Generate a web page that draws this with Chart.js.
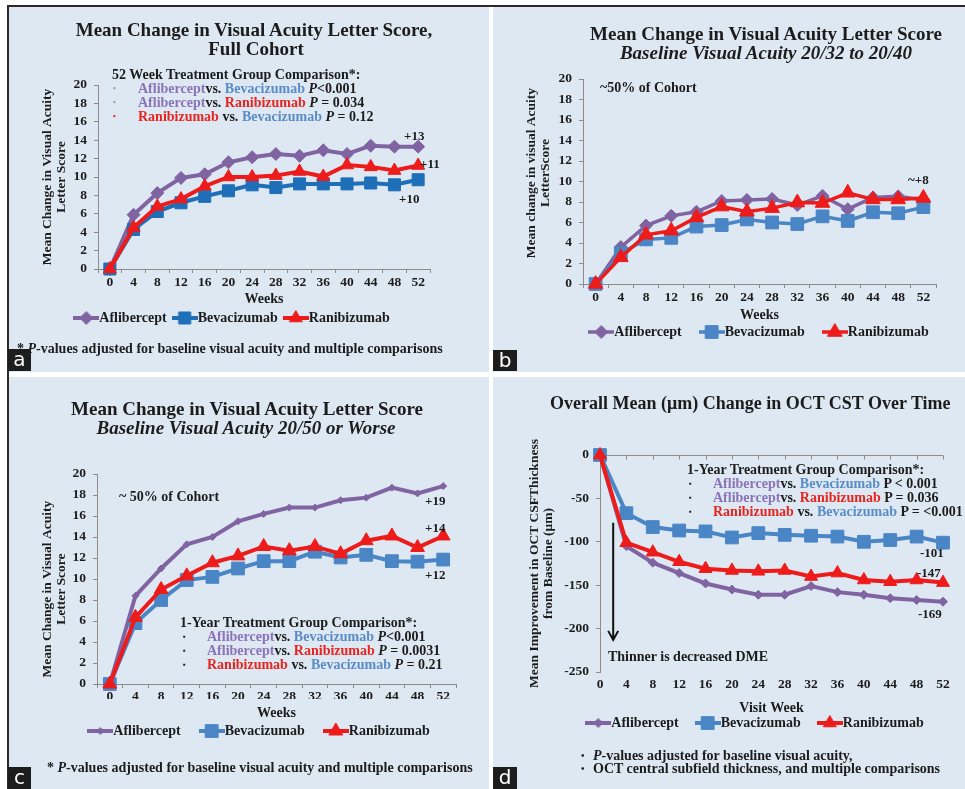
<!DOCTYPE html>
<html>
<head>
<meta charset="utf-8">
<title>Mean change in visual acuity and OCT CST by treatment</title>
<script src="https://cdn.jsdelivr.net/npm/chart.js@4.4.1/dist/chart.umd.min.js"></script>
<style>
  html, body { margin: 0; padding: 0; background: #fff; }
  #fig { position: relative; width: 965px; height: 789px; overflow: hidden; background: #fff;
         font-family: 'Liberation Serif', 'DejaVu Serif', serif; font-weight: bold; color: #1c1c1c; }
  .panel { position: absolute; background: #dde8f3; overflow: hidden; }
  .panel canvas { position: absolute; left: 0; top: 0; }
  .t { position: absolute; white-space: nowrap; line-height: 1; }
  .pu { color: #8b73b6; }
  .bl { color: #5a8cc6; }
  .rd { color: #e8241f; }
  .tag { position: absolute; background: #1d1d1d; color: #fff; font: 20px 'DejaVu Sans', sans-serif;
         line-height: 20px; text-align: center; }
  .rule { position: absolute; background: #2b2b2b; }
</style>
</head>
<body>
<div id="fig">
  <div class="panel" id="pa" style="left:9px;top:7px;width:480px;height:365px"><canvas id="ca" width="480" height="365"></canvas></div>
  <div class="panel" id="pb" style="left:493px;top:7px;width:472px;height:365px"><canvas id="cb" width="472" height="365"></canvas></div>
  <div class="panel" id="pc" style="left:9px;top:377px;width:480px;height:412px"><canvas id="cc" width="480" height="412"></canvas></div>
  <div class="panel" id="pd" style="left:493px;top:377px;width:472px;height:412px"><canvas id="cd" width="472" height="412"></canvas></div>
  <div class="rule" style="left:7px;top:5px;width:958px;height:2px"></div>
  <div class="rule" style="left:7px;top:5px;width:2px;height:784px"></div>
  <div class="tag" style="left:8px;top:349px;width:23px;height:22px">a</div>
  <div class="tag" style="left:493px;top:350px;width:24px;height:21px">b</div>
  <div class="tag" style="left:8px;top:767px;width:23px;height:22px">c</div>
  <div class="tag" style="left:493px;top:767px;width:24px;height:22px">d</div>
</div>
<script>
// x categories (weeks)
const weeks = ['0', '4', '8', '12', '16', '20', '24', '28', '32', '36', '40', '44', '48', '52'];

// a - full cohort, mean change in letter score
const fullAflibercept = [0, 5.9, 8.25, 9.9, 10.3, 11.6, 12.15, 12.5, 12.3, 12.9, 12.5, 13.4, 13.3, 13.3];
const fullBevacizumab = [0, 4.3, 6.25, 7.2, 7.9, 8.5, 9.15, 8.85, 9.25, 9.25, 9.25, 9.35, 9.15, 9.7];
const fullRanibizumab = [0, 4.5, 6.8, 7.6, 9.0, 10.0, 10.0, 10.15, 10.6, 10.05, 11.3, 11.1, 10.7, 11.25];

// b - baseline 20/32 to 20/40
const goodAflibercept = [0, 3.6, 5.7, 6.65, 7.05, 8.1, 8.2, 8.3, 7.7, 8.6, 7.3, 8.45, 8.55, 8.2];
const goodBevacizumab = [0, 3.0, 4.35, 4.5, 5.6, 5.75, 6.3, 6.0, 5.85, 6.6, 6.15, 7.0, 6.9, 7.5];
const goodRanibizumab = [0, 2.6, 4.8, 5.2, 6.5, 7.55, 7.05, 7.4, 7.95, 7.9, 8.9, 8.25, 8.25, 8.4];

// c - baseline 20/50 or worse
const poorAflibercept = [0, 8.4, 11.0, 13.3, 14.0, 15.5, 16.2, 16.8, 16.8, 17.5, 17.75, 18.7, 18.15, 18.85];
const poorBevacizumab = [0, 5.8, 8.0, 9.9, 10.2, 11.0, 11.7, 11.7, 12.6, 12.05, 12.3, 11.7, 11.65, 11.85];
const poorRanibizumab = [0, 6.35, 9.0, 10.3, 11.55, 12.2, 13.1, 12.7, 13.1, 12.4, 13.65, 14.1, 13.0, 14.1];

// d - OCT central subfield thickness change (um)
const cstAflibercept = [0, -105, -124, -136, -148, -155, -161, -161, -151, -158, -161, -165, -167, -169];
const cstBevacizumab = [0, -67, -83, -87, -88, -95, -90, -92, -93, -94, -100, -98, -94, -101];
const cstRanibizumab = [0, -101, -112, -123, -131, -133, -134, -133, -140, -136, -144, -146, -144, -147];

// y tick ranges [min, max, step]
const scoreTicks = [0, 20, 2];
const cstTicks = [-250, 0, 50];
// "thinner" arrow: week position (category index) and span in um
const arrowWeek = 0.5;
const arrowSpan = [-78, -213];

const serif = "'Liberation Serif', 'DejaVu Serif', serif";
const axisGray = '#8c8c8c';
const ink = '#1c1c1c';
const purple = '#8064a2';
const red = '#ee1b1b';
const blueDark = '#1f6fb8';
const blueSoft = '#4a85c6';

function legendIcon(color, style, radius, width) {
    const c = document.createElement('canvas');
    c.width = 26;
    c.height = 20;
    const g = c.getContext('2d');
    g.strokeStyle = color;
    g.fillStyle = color;
    g.lineWidth = width;
    g.beginPath();
    g.moveTo(0, 10);
    g.lineTo(26, 10);
    g.stroke();
    g.lineWidth = 1;
    Chart.helpers.drawPoint(g, { pointStyle: style, radius: radius, borderWidth: 1, rotation: 0 }, 13, 10);
    return c;
}

function series(label, data, color, style, radius, width, order) {
    return {
        label, data, order,
        borderColor: color,
        backgroundColor: color,
        pointBackgroundColor: color,
        pointBorderColor: color,
        borderWidth: width,
        pointStyle: style,
        pointRadius: radius,
        pointBorderWidth: 1,
        tension: 0,
        clip: false,
        icon: legendIcon(color, style, radius, width)
    };
}

// plain zero line with tick marks for panel d (x axis sits at 0)
const zeroAxis = {
    id: 'zeroAxis',
    beforeDatasetsDraw(chart) {
        if (!chart.options.plugins.zeroAxis) return;
        const { ctx, chartArea, scales: { x, y } } = chart;
        const y0 = Math.round(y.getPixelForValue(0)) + 0.5;
        ctx.save();
        ctx.strokeStyle = axisGray;
        ctx.lineWidth = 1;
        ctx.beginPath();
        ctx.moveTo(chartArea.left, y0);
        ctx.lineTo(chartArea.right, y0);
        x.ticks.forEach((t, i) => {
            const px = Math.round(x.getPixelForTick(i)) + 0.5;
            ctx.moveTo(px, y0);
            ctx.lineTo(px, y0 + 4);
        });
        ctx.stroke();
        ctx.restore();
    }
};

const thinnerArrow = {
    id: 'thinnerArrow',
    afterDatasetsDraw(chart) {
        if (!chart.options.plugins.thinnerArrow) return;
        const { ctx, scales: { x, y } } = chart;
        const px = x.getPixelForValue(arrowWeek);
        const y1 = y.getPixelForValue(arrowSpan[0]);
        const y2 = y.getPixelForValue(arrowSpan[1]);
        ctx.save();
        ctx.strokeStyle = '#111';
        ctx.lineWidth = 2;
        ctx.beginPath();
        ctx.moveTo(px, y1);
        ctx.lineTo(px, y2);
        ctx.moveTo(px - 5, y2 - 9);
        ctx.lineTo(px, y2);
        ctx.lineTo(px + 5, y2 - 9);
        ctx.stroke();
        ctx.restore();
    }
};

function panelChart(canvasId, g, datasets, yRange, xTitle, yTitle, zeroAtTop) {
    const tickFont = 13.5, xTitleFont = 14, yTitleFont = 13.5, legendFont = 14;
    const xh = g.legendCY - g.bottom - g.pad - legendFont / 2;
    const pb = g.H - g.bottom - xh - (legendFont + g.pad + 10);
    const pr = g.W + g.pl - 2 * g.legendCX;
    const rightW = g.W - g.right - pr;
    const tickLen = zeroAtTop ? 0 : 4;

    return new Chart(document.getElementById(canvasId), {
        type: 'line',
        data: { labels: weeks, datasets: datasets },
        plugins: [zeroAxis, thinnerArrow],
        options: {
            responsive: false,
            animation: false,
            layout: { padding: { left: g.pl, right: pr, top: g.top, bottom: pb } },
            plugins: {
                zeroAxis: zeroAtTop,
                thinnerArrow: zeroAtTop,
                tooltip: { enabled: false },
                legend: {
                    position: 'bottom',
                    labels: {
                        usePointStyle: true,
                        pointStyleWidth: 12,
                        padding: g.pad,
                        color: ink,
                        font: { family: serif, size: legendFont, weight: 'bold' },
                        sort: (a, b) => a.datasetIndex - b.datasetIndex,
                        generateLabels(chart) {
                            const items = Chart.defaults.plugins.legend.labels.generateLabels(chart);
                            items.forEach(it => { it.pointStyle = chart.data.datasets[it.datasetIndex].icon; });
                            return items;
                        }
                    }
                }
            },
            scales: {
                x: {
                    type: 'category',
                    offset: !zeroAtTop,
                    border: { display: !zeroAtTop, color: axisGray },
                    grid: { display: !zeroAtTop, drawOnChartArea: false, drawTicks: !zeroAtTop, tickLength: 4, offset: true, color: axisGray },
                    ticks: {
                        autoSkip: false, maxRotation: 0, color: ink,
                        padding: g.xLabelCY - g.bottom - tickLen - 0.6 * tickFont,
                        font: { family: serif, size: tickFont, weight: 'bold' }
                    },
                    title: {
                        display: true, text: xTitle, color: ink,
                        padding: { top: 0, bottom: g.bottom + xh - 0.6 * xTitleFont - g.xTitleCY },
                        font: { family: serif, size: xTitleFont, weight: 'bold' }
                    },
                    afterFit(s) { s.height = xh; }
                },
                y: {
                    type: 'linear',
                    min: yRange[0], max: yRange[1],
                    border: { display: true, color: axisGray },
                    grid: { drawOnChartArea: false, tickLength: 4, color: axisGray },
                    ticks: {
                        stepSize: yRange[2], autoSkip: false, padding: 7, color: ink,
                        font: { family: serif, size: tickFont, weight: 'bold' }
                    },
                    title: {
                        display: true, text: yTitle, color: ink,
                        padding: { top: g.yTitleX - g.pl - yTitleFont / 2, bottom: 0 },
                        font: { family: serif, size: yTitleFont, weight: 'bold', lineHeight: 1.0 }
                    },
                    afterFit(s) { s.width = g.left - g.pl; }
                },
                spacer: {
                    type: 'linear', position: 'right', display: true,
                    grid: { display: false, drawTicks: false },
                    border: { display: false },
                    ticks: { display: false },
                    afterFit(s) { s.width = rightW; }
                }
            }
        }
    });
}

// positions inside each panel
const geoA = { W: 480, H: 365, left: 89, right: 421, top: 78, bottom: 262, pl: 12, legendCX: 226, legendCY: 311, pad: 12, xLabelCY: 276, xTitleCY: 292, yTitleX: 39 };
const geoB = { W: 472, H: 365, left: 90, right: 443, top: 72, bottom: 277, pl: 66, legendCX: 269, legendCY: 325, pad: 24, xLabelCY: 291, xTitleCY: 308, yTitleX: 39 };
const geoC = { W: 480, H: 412, left: 88, right: 447, top: 97, bottom: 307, pl: 40, legendCX: 253, legendCY: 354, pad: 25, xLabelCY: 320, xTitleCY: 336, yTitleX: 39 };
const geoD = { W: 472, H: 412, left: 107, right: 450, top: 78, bottom: 295, pl: 60, legendCX: 265, legendCY: 346, pad: 23, xLabelCY: 308, xTitleCY: 331, yTitleX: 42 };

panelChart('ca', geoA, [
    series('Aflibercept', fullAflibercept, purple, 'rectRot', 6.5, 4, 3),
    series('Bevacizumab', fullBevacizumab, blueDark, 'rect', 8.5, 4, 2),
    series('Ranibizumab', fullRanibizumab, red, 'triangle', 7.5, 4, 1)
], scoreTicks, 'Weeks', ['Mean Change in Visual Acuity', 'Letter Score'], false);

// leading / trailing spaces nudge the rotated titles off the axis centre, as in the source
panelChart('cb', geoB, [
    series('Aflibercept', goodAflibercept, purple, 'rectRot', 6.5, 3.5, 3),
    series('Bevacizumab', goodBevacizumab, blueSoft, 'rect', 9, 3.5, 2),
    series('Ranibizumab', goodRanibizumab, red, 'triangle', 8.5, 3.5, 1)
], scoreTicks, 'Weeks', ['     Mean change in visual Acuity', '     LetterScore'], false);

panelChart('cc', geoC, [
    series('Aflibercept', poorAflibercept, purple, 'rectRot', 3.5, 4, 3),
    series('Bevacizumab', poorBevacizumab, blueSoft, 'rect', 9, 4, 2),
    series('Ranibizumab', poorRanibizumab, red, 'triangle', 8, 4, 1)
], scoreTicks, 'Weeks', ['Mean Change in Visual Acuity      ', 'Letter Score      '], false);

panelChart('cd', geoD, [
    series('Aflibercept', cstAflibercept, purple, 'rectRot', 4.5, 4, 3),
    series('Bevacizumab', cstBevacizumab, blueSoft, 'rect', 9, 4, 2),
    series('Ranibizumab', cstRanibizumab, red, 'triangle', 7.5, 4, 1)
], cstTicks, 'Visit Week', ['Mean Improvement in OCT CSFThickness', 'from Baseline (μm)'], true);

// text written on the panels
function note(panel, x, cy, html, size, center, color) {
    const d = document.createElement('div');
    d.className = 't';
    d.innerHTML = html;
    d.style.left = x + 'px';
    d.style.top = cy + 'px';
    d.style.fontSize = size + 'px';
    d.style.transform = center ? 'translate(-50%, -50%)' : 'translateY(-50%)';
    if (color) d.style.color = color;
    document.getElementById(panel).appendChild(d);
}

// a
note('pa', 245, 22, 'Mean Change in Visual Acuity Letter Score,', 19, true);
note('pa', 247, 41, 'Full Cohort', 19, true);
note('pa', 103, 68, '52 Week Treatment Group Comparison*:', 14);
note('pa', 104, 82, '•', 8, false, '#9a9ab8');
note('pa', 104, 96, '•', 8, false, '#9a9ab8');
note('pa', 104, 110, '•', 8, false, '#e8241f');
note('pa', 129, 82, '<span class="pu">Aflibercept</span>vs. <span class="bl">Bevacizumab</span> <i>P</i>&lt;0.001', 14);
note('pa', 129, 96, '<span class="pu">Aflibercept</span>vs. <span class="rd">Ranibizumab</span> <i>P</i> = 0.034', 14);
note('pa', 129, 110, '<span class="rd">Ranibizumab</span> vs. <span class="bl">Bevacizumab</span> <i>P</i> = 0.12', 14);
note('pa', 395, 128, '+13', 13);
note('pa', 411, 156, '+11', 13);
note('pa', 390, 191, '+10', 13);
note('pa', 8, 342, '* <i>P</i>-values adjusted for baseline visual acuity and multiple comparisons', 14);

// b
note('pb', 273, 26, 'Mean Change in Visual Acuity Letter Score', 19, true);
note('pb', 273, 45, '<i>Baseline Visual Acuity 20/32 to 20/40</i>', 19, true);
note('pb', 107, 81, '~50% of Cohort', 14);
note('pb', 415, 172, '~+8', 13);

// c
note('pc', 238, 31, 'Mean Change in Visual Acuity Letter Score', 19, true);
note('pc', 237, 50, '<i>Baseline Visual Acuity 20/50 or Worse</i>', 19, true);
note('pc', 110, 120, '~ 50% of Cohort', 14);
note('pc', 171, 246, '1-Year Treatment Group Comparison*:', 14);
[260, 274, 288].forEach(cy => note('pc', 174, cy, '▪', 8));
note('pc', 198, 260, '<span class="pu">Aflibercept</span>vs. <span class="bl">Bevacizumab</span> <i>P</i>&lt;0.001', 14);
note('pc', 198, 274, '<span class="pu">Aflibercept</span>vs. <span class="rd">Ranibizumab</span> <i>P</i> = 0.0031', 14);
note('pc', 198, 288, '<span class="rd">Ranibizumab</span> vs. <span class="bl">Bevacizumab</span> <i>P</i> = 0.21', 14);
note('pc', 416, 123, '+19', 13);
note('pc', 416, 150, '+14', 13);
note('pc', 416, 197, '+12', 13);
note('pc', 38, 391, '* <i>P</i>-values adjusted for baseline visual acuity and multiple comparisons', 14);

// d
note('pd', 57, 26, 'Overall Mean (μm) Change in OCT CST Over Time', 18);
note('pd', 194, 93, '1-Year Treatment Group Comparison*:', 14);
[107, 121, 135].forEach(cy => note('pd', 196, cy, '▪', 8));
note('pd', 220, 107, '<span class="pu">Aflibercept</span>vs. <span class="bl">Bevacizumab</span> P &lt; 0.001', 14);
note('pd', 220, 121, '<span class="pu">Aflibercept</span>vs. <span class="rd">Ranibizumab</span> P = 0.036', 14);
note('pd', 220, 135, '<span class="rd">Ranibizumab</span> vs. <span class="bl">Bevacizumab</span> P = &lt;0.001', 14);
note('pd', 115, 280, 'Thinner is decreased DME', 14);
note('pd', 427, 175, '-101', 13);
note('pd', 424, 195, '-147', 13);
note('pd', 425, 236, '-169', 13);
note('pd', 88, 379, '•', 10);
note('pd', 88, 392, '•', 10);
note('pd', 100, 379, '<i>P</i>-values adjusted for baseline visual acuity,', 14);
note('pd', 100, 392, 'OCT central subfield thickness, and multiple comparisons', 14);
</script>
</body>
</html>
